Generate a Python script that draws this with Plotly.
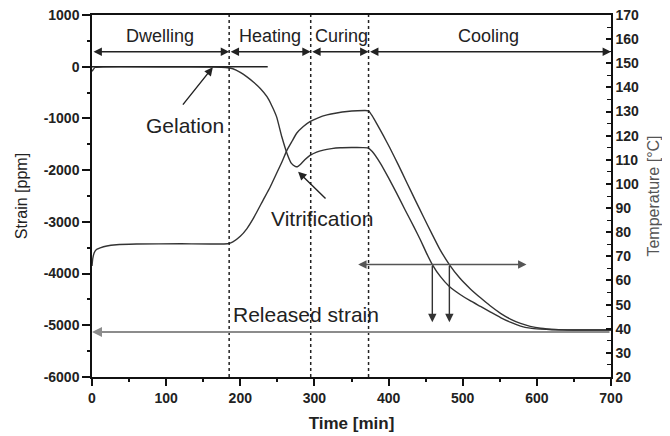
import plotly.graph_objects as go

# ---------------- data ----------------
strain_time = [0, 4, 15, 100, 165, 180, 190, 200, 209, 218, 227, 236, 242, 249, 256, 263,
               269, 274, 277, 281, 287, 294, 303, 312, 323, 335, 350, 365, 372, 378, 389,
               400, 411, 422, 434, 443, 451, 459, 470, 482, 496, 510, 524, 537, 551, 565,
               578, 591, 605, 620, 650, 700]
strain_ppm = [-90, -15, 0, 0, -5, -15, -40, -110, -197, -300, -420, -580, -740, -970, -1355, -1676,
              -1869, -1925, -1935, -1890, -1800, -1715, -1650, -1612, -1585, -1568, -1563, -1565, -1570, -1640, -1869,
              -2150, -2448, -2760, -3093, -3350, -3600, -3826, -4060, -4250, -4400, -4525, -4635, -4740, -4850, -4945,
              -5015, -5055, -5073, -5085, -5090, -5090]

temp_time = [0, 1, 3, 6, 11, 20, 33, 60, 120, 183, 190, 200, 209, 218, 231, 240, 249, 256, 263,
             270, 276, 285, 294, 305, 317, 330, 344, 358, 368, 373, 378, 384, 393, 402, 413, 425,
             436, 447, 458, 469, 482, 496, 510, 524, 537, 551, 565, 578, 591, 605, 625, 650, 700]
temp_c = [66, 69, 71.5, 72.8, 73.5, 74.3, 74.8, 75.1, 75.2, 75.2, 76, 78.3, 81.5, 85.9, 93.4, 98.5, 104.4, 109, 114,
          117.8, 121, 123.8, 125.8, 127.4, 128.6, 129.4, 130, 130.3, 130.4, 130.3, 128.2, 125.0, 120.0, 114.8, 108.0, 100.3,
          93.3, 86.4, 79.6, 73.0, 66.6, 61.0, 56.6, 52.8, 49.5, 46.4, 43.9, 42.2, 41.0, 40.2, 39.7, 39.5, 39.5]

phase_bounds = [0, 185, 295, 373, 700]
phase_names = ["Dwelling", "Heating", "Curing", "Cooling"]
phase_label_x = [92, 240, 336, 535]
phase_arrow_y = 290
phase_label_y = 600

zero_line_end = 237
released_strain = -5131
cooling_arrow = dict(left=357, right=586, y=-3826, drops=[459, 482], bottom=-4940)
gelation = dict(head=(163, -10), tail=(121, -763), text=(125, -1135))
vitrification = dict(head=(278, -2031), tail=(317, -2577), text=(310, -2930))
released_text = (289, -4795)

x_ticks = [0, 100, 200, 300, 400, 500, 600, 700]
y_ticks = [1000, 0, -1000, -2000, -3000, -4000, -5000, -6000]
y_tick_text = ["1000", "0", "-1000", "-2000", "-3000", "-4000", "-5000", "-6000"]
y2_ticks = list(range(20, 171, 10))

FONT = "Liberation Sans, Arial, sans-serif"
INK = "#222222"

fig = go.Figure()
fig.add_trace(go.Scatter(x=strain_time, y=strain_ppm, mode="lines", name="Strain",
                         line=dict(color="#333333", width=1.4, shape="spline", smoothing=0.4),
                         showlegend=False))
fig.add_trace(go.Scatter(x=temp_time, y=temp_c, mode="lines", name="Temperature", yaxis="y2",
                         line=dict(color="#333333", width=1.4, shape="spline", smoothing=0.4),
                         showlegend=False))

shapes = []
for b in phase_bounds[1:-1]:
    shapes.append(dict(type="line", xref="x", yref="paper", x0=b, x1=b, y0=0, y1=1,
                       line=dict(color="#222222", width=1.5, dash="dot")))
shapes.append(dict(type="line", xref="x", yref="y", x0=0, x1=zero_line_end, y0=0, y1=0,
                   line=dict(color="#222222", width=1.5)))

ann = []
for a, b in zip(phase_bounds[:-1], phase_bounds[1:]):
    ann.append(dict(x=b, y=phase_arrow_y, ax=a, ay=phase_arrow_y, xref="x", yref="y", axref="x", ayref="y",
                    text="", showarrow=True, arrowside="end+start", arrowhead=2, arrowsize=1.2,
                    arrowwidth=1.4, arrowcolor="#222222"))
for name, lx in zip(phase_names, phase_label_x):
    ann.append(dict(x=lx, y=phase_label_y, xref="x", yref="y", text=name, showarrow=False,
                    font=dict(family=FONT, size=18, color=INK)))
ann.append(dict(x=gelation["head"][0], y=gelation["head"][1], ax=gelation["tail"][0], ay=gelation["tail"][1],
                xref="x", yref="y", axref="x", ayref="y", text="", showarrow=True, arrowhead=2,
                arrowsize=1.2, arrowwidth=1.4, arrowcolor="#222222"))
ann.append(dict(x=gelation["text"][0], y=gelation["text"][1], xref="x", yref="y", text="Gelation",
                showarrow=False, font=dict(family=FONT, size=21, color=INK)))
ann.append(dict(x=vitrification["head"][0], y=vitrification["head"][1], ax=vitrification["tail"][0],
                ay=vitrification["tail"][1], xref="x", yref="y", axref="x", ayref="y", text="", showarrow=True,
                arrowhead=2, arrowsize=1.2, arrowwidth=1.4, arrowcolor="#222222"))
ann.append(dict(x=vitrification["text"][0], y=vitrification["text"][1], xref="x", yref="y", text="Vitrification",
                showarrow=False, font=dict(family=FONT, size=21, color=INK)))
ann.append(dict(x=0, y=released_strain, ax=700, ay=released_strain, xref="x", yref="y", axref="x", ayref="y",
                text="", showarrow=True, arrowhead=2, arrowsize=1.0, arrowwidth=2, arrowcolor="#8c8c8c"))
ann.append(dict(x=released_text[0], y=released_text[1], xref="x", yref="y", text="Released strain",
                showarrow=False, font=dict(family=FONT, size=21, color=INK)))
ca = cooling_arrow
ann.append(dict(x=ca["right"], y=ca["y"], ax=ca["left"], ay=ca["y"], xref="x", yref="y", axref="x", ayref="y",
                text="", showarrow=True, arrowside="end+start", arrowhead=2, arrowsize=1.2, arrowwidth=1.4,
                arrowcolor="#555555"))
for d in ca["drops"]:
    ann.append(dict(x=d, y=ca["bottom"], ax=d, ay=ca["y"], xref="x", yref="y", axref="x", ayref="y",
                    text="", showarrow=True, arrowhead=2, arrowsize=1.2, arrowwidth=1.4, arrowcolor="#333333"))

tickfont = dict(family=FONT, size=14, color=INK, weight="bold")

# the page body keeps its default 8 px margin, so the figure is sized to fit the window
fig.update_layout(
    width=662, height=428,
    margin=dict(l=84, r=59, t=7, b=59, autoexpand=False),
    paper_bgcolor="white", plot_bgcolor="white",
    shapes=shapes, annotations=ann,
    xaxis=dict(range=[0, 700], tickvals=x_ticks, showline=True, linecolor="#111111", linewidth=1.5,
               mirror=True, ticks="outside", ticklen=7, tickwidth=1.5, tickcolor="#111111",
               minor=dict(dtick=50, ticks="outside", ticklen=3, tickwidth=1.5, tickcolor="#111111"),
               showgrid=False, zeroline=False, tickfont=tickfont, automargin=False,
               ticklabeloverflow="allow",
               title=dict(text="Time [min]", font=dict(family=FONT, size=17, color=INK, weight="bold"),
                          standoff=13)),
    yaxis=dict(range=[-6000, 1000], tickvals=y_ticks, ticktext=y_tick_text, showline=True,
               linecolor="#111111", linewidth=1.5, ticks="outside", ticklen=8, tickwidth=1.5,
               tickcolor="#111111", automargin=False, ticklabeloverflow="allow",
               minor=dict(dtick=500, ticks="outside", ticklen=3, tickwidth=1.5, tickcolor="#111111"),
               showgrid=False, zeroline=False, tickfont=tickfont,
               title=dict(text="Strain [ppm]", font=dict(family=FONT, size=16, color=INK), standoff=12)),
    yaxis2=dict(range=[20, 170], tickvals=y2_ticks, overlaying="y", side="right", showline=True,
                linecolor="#111111", linewidth=1.5, ticks="inside", ticklen=5, tickwidth=1.5,
                tickcolor="#111111", automargin=False, ticklabeloverflow="allow",
                minor=dict(dtick=5, ticks="inside", ticklen=4, tickwidth=1.2, tickcolor="#111111"),
                showgrid=False, zeroline=False, tickfont=dict(family=FONT, size=14, color=INK, weight="bold"),
                title=dict(text="Temperature [°C]", font=dict(family=FONT, size=16, color="#555555"),
                           standoff=10)),
)

fig.write_html("out.html")
